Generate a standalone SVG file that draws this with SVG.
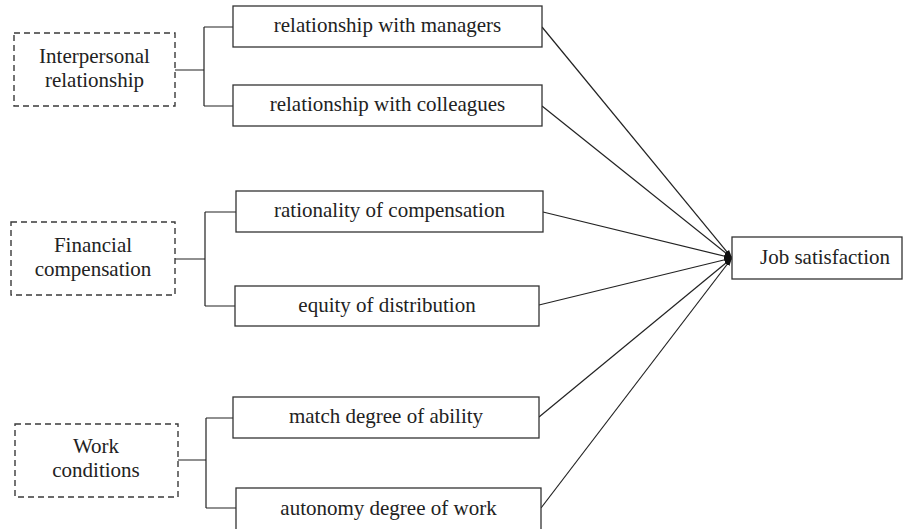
<svg xmlns="http://www.w3.org/2000/svg" width="904" height="529" viewBox="0 0 904 529">
  <style>
    .label { font-family: "Liberation Serif", "DejaVu Serif", serif; font-size: 21px; fill: #222; text-anchor: middle; }
    .box { fill: #fff; stroke: #333; stroke-width: 1.3; }
    .group { fill: #fff; stroke: #3a3a3a; stroke-width: 1.4; stroke-dasharray: 6 4; }
    .link { fill: none; stroke: #222; stroke-width: 1.2; }
  </style>
  <defs>
    <marker id="arrow" viewBox="0 0 10 10" refX="10" refY="5" markerWidth="8" markerHeight="8" markerUnits="userSpaceOnUse" orient="auto">
      <path d="M0,1.5 L10,5 L0,8.5 z" fill="#111"/>
    </marker>
  </defs>

  <rect width="904" height="529" fill="#fff"/>

  <!-- connectors -->
  <g id="connectors" class="link">
    <!-- bracket: interpersonal relationship -->
    <path d="M175,70 H204 M204,27 V106 M204,27 H233 M204,106 H233"/>
    <!-- bracket: financial compensation -->
    <path d="M175,259 H205 M205,212 V306 M205,212 H236 M205,306 H235"/>
    <!-- bracket: work conditions -->
    <path d="M178,460 H206 M206,418 V508 M206,418 H233 M206,508 H236"/>
    <!-- factors to job satisfaction -->
    <line x1="542" y1="27" x2="732" y2="258" marker-end="url(#arrow)"/>
    <line x1="542" y1="106" x2="732" y2="258" marker-end="url(#arrow)"/>
    <line x1="543" y1="212" x2="732" y2="258" marker-end="url(#arrow)"/>
    <line x1="539" y1="305" x2="732" y2="258" marker-end="url(#arrow)"/>
    <line x1="539" y1="417" x2="732" y2="258" marker-end="url(#arrow)"/>
    <line x1="541" y1="508" x2="732" y2="258" marker-end="url(#arrow)"/>
  </g>

  <!-- dimension groups -->
  <g id="interpersonal">
    <rect class="group" x="14" y="33" width="161" height="73"/>
    <text class="label" x="94.5" y="63">Interpersonal</text>
    <text class="label" x="94.5" y="87">relationship</text>
  </g>
  <g id="financial">
    <rect class="group" x="11" y="222" width="164" height="73"/>
    <text class="label" x="93" y="252">Financial</text>
    <text class="label" x="93" y="276">compensation</text>
  </g>
  <g id="work">
    <rect class="group" x="15" y="424" width="163" height="73"/>
    <text class="label" x="96" y="453">Work</text>
    <text class="label" x="96" y="477">conditions</text>
  </g>

  <!-- factors -->
  <g id="managers">
    <rect class="box" x="233" y="6" width="309" height="41"/>
    <text class="label" x="387.5" y="32">relationship with managers</text>
  </g>
  <g id="colleagues">
    <rect class="box" x="233" y="85" width="309" height="41"/>
    <text class="label" x="387.5" y="111">relationship with colleagues</text>
  </g>
  <g id="rationality">
    <rect class="box" x="236" y="191" width="307" height="41"/>
    <text class="label" x="389.5" y="217">rationality of compensation</text>
  </g>
  <g id="equity">
    <rect class="box" x="235" y="286" width="304" height="40"/>
    <text class="label" x="387" y="311.5">equity of distribution</text>
  </g>
  <g id="ability">
    <rect class="box" x="233" y="397" width="306" height="41"/>
    <text class="label" x="386" y="423">match degree of ability</text>
  </g>
  <g id="autonomy">
    <rect class="box" x="236" y="488" width="305" height="50"/>
    <text class="label" x="388.5" y="515">autonomy degree of work</text>
  </g>

  <!-- outcome -->
  <g id="job-satisfaction">
    <rect class="box" x="732" y="237" width="170" height="42"/>
    <text class="label" x="825" y="264">Job satisfaction</text>
  </g>
</svg>
